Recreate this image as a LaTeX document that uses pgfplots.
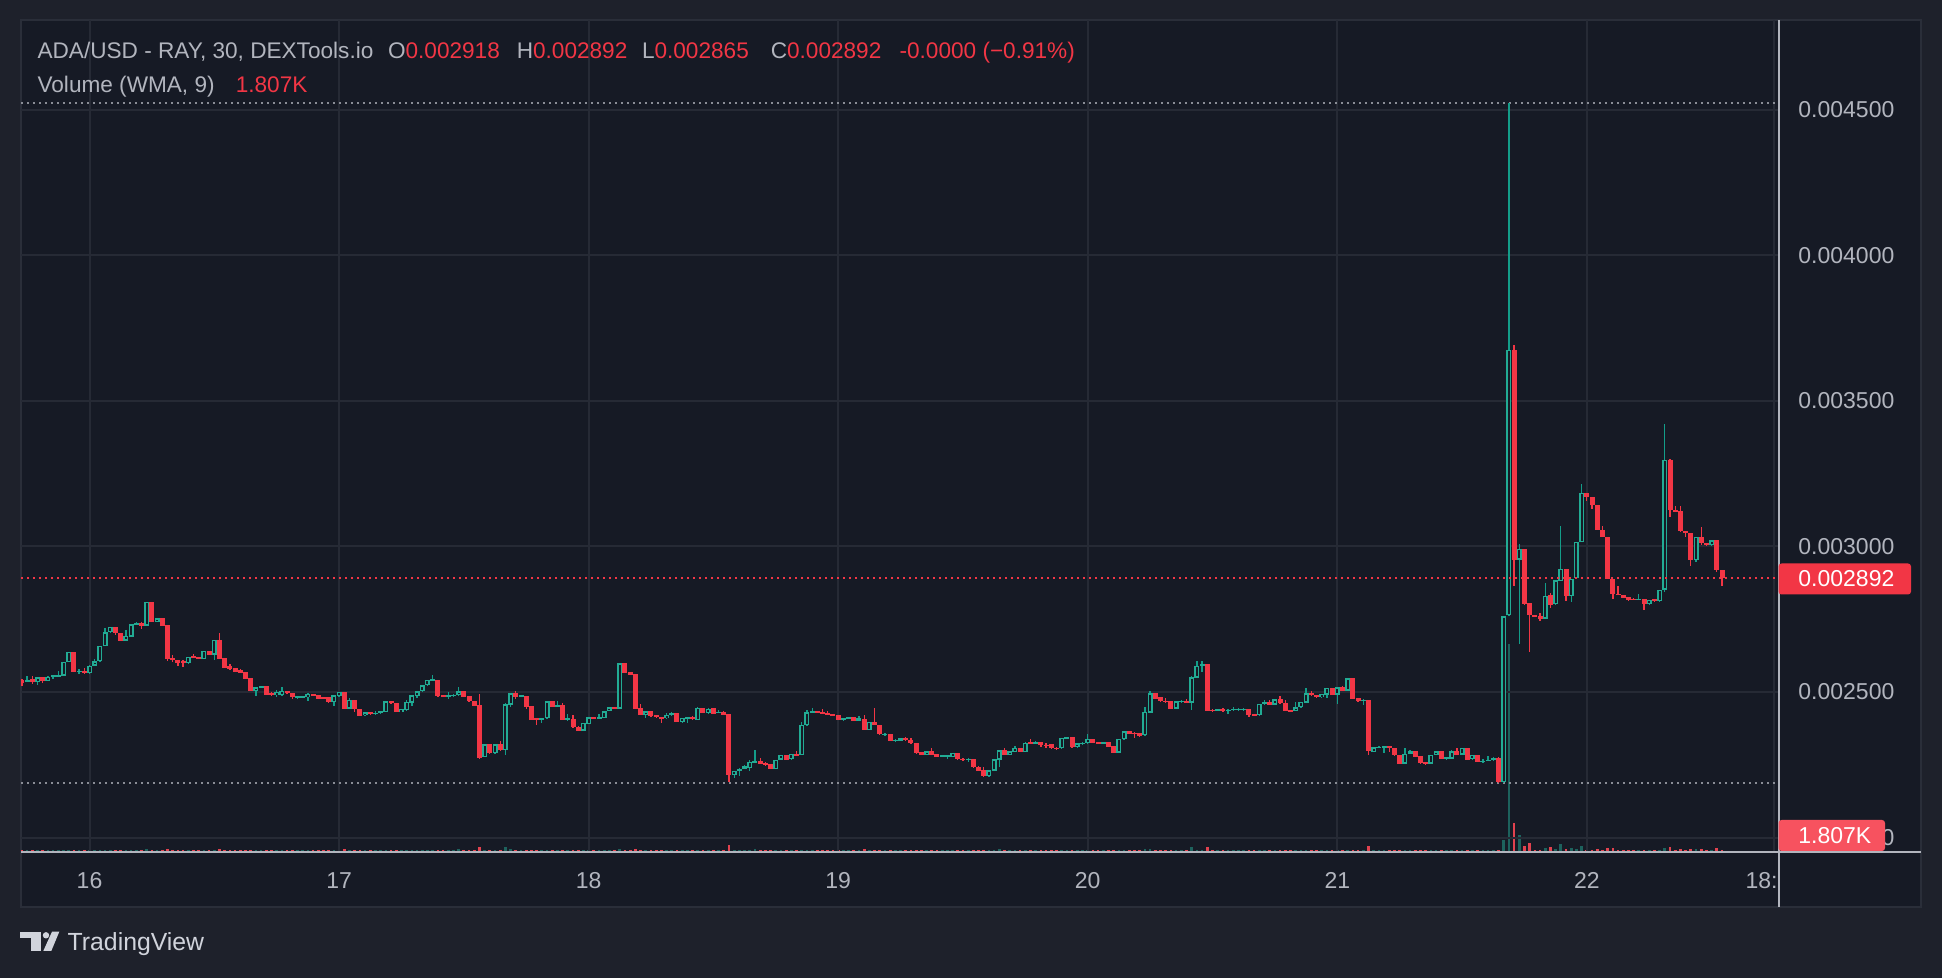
\documentclass[border=0pt]{standalone}
\usepackage{pgfplots}
\usepackage{pgfplotstable}
\pgfplotsset{compat=1.18}
\usepackage{fontspec}
\setmainfont{Liberation Sans}

\definecolor{outerbg}{HTML}{1E212B}
\definecolor{panebg}{HTML}{161A25}
\definecolor{paneborder}{HTML}{2A2E39}
\definecolor{gridc}{HTML}{262A35}
\definecolor{tvtext}{HTML}{B2B5BE}
\definecolor{tvlight}{HTML}{D1D4DC}
\definecolor{tvred}{HTML}{F23645}
\definecolor{tvteal}{HTML}{22AB94}
\definecolor{wickteal}{HTML}{139D89}
\definecolor{volteal}{HTML}{1D625D}
\definecolor{volred}{HTML}{E2424F}
\definecolor{dotgray}{HTML}{8A8D96}
\definecolor{volbox}{HTML}{F7525F}

% 30 min candles, n = half hours after 16 00:00
\pgfplotstableread{
n o h l c v
-13 0.002541 0.002545 0.002522 0.002532 1.2
-12 0.002534 0.002554 0.002533 0.002541 1.2
-11 0.002546 0.002555 0.002529 0.002534 1.2
-10 0.002534 0.002550 0.002525 0.002550 1.2
-9 0.002550 0.002553 0.002532 0.002537 1.2
-8 0.002539 0.002555 0.002537 0.002553 1.2
-7 0.002550 0.002558 0.002546 0.002557 1.2
-6 0.002553 0.002571 0.002551 0.002559 1.2
-5 0.002556 0.002603 0.002555 0.002603 1.2
-4 0.002603 0.002637 0.002602 0.002637 1.2
-3 0.002637 0.002637 0.002569 0.002570 1.2
-2 0.002569 0.002578 0.002562 0.002573 1.2
-1 0.002573 0.002582 0.002563 0.002564 1.2
0 0.002564 0.002593 0.002563 0.002591 1.2
1 0.002591 0.002615 0.002590 0.002605 1.2
2 0.002605 0.002658 0.002604 0.002658 1.2
3 0.002658 0.002720 0.002657 0.002705 1.2
4 0.002705 0.002724 0.002704 0.002724 1.2
5 0.002725 0.002725 0.002697 0.002701 1.2
6 0.002704 0.002704 0.002675 0.002676 1.2
7 0.002676 0.002713 0.002675 0.002692 1.2
8 0.002690 0.002732 0.002689 0.002732 1.2
9 0.002731 0.002739 0.002730 0.002736 1.2
10 0.002736 0.002740 0.002717 0.002726 1.2
11 0.002728 0.002809 0.002726 0.002809 1.6
12 0.002809 0.002809 0.002740 0.002741 1.2
13 0.002741 0.002753 0.002740 0.002753 1.2
14 0.002753 0.002753 0.002726 0.002728 1.2
15 0.002730 0.002730 0.002607 0.002614 2.0
16 0.002617 0.002626 0.002603 0.002610 1.2
17 0.002610 0.002610 0.002589 0.002601 1.2
18 0.002605 0.002610 0.002587 0.002598 1.2
19 0.002598 0.002621 0.002597 0.002621 1.2
20 0.002623 0.002630 0.002618 0.002619 1.2
21 0.002621 0.002621 0.002613 0.002614 1.2
22 0.002614 0.002641 0.002613 0.002641 1.2
23 0.002641 0.002641 0.002627 0.002628 1.2
24 0.002628 0.002678 0.002610 0.002678 1.2
25 0.002678 0.002702 0.002613 0.002614 1.8
26 0.002617 0.002617 0.002582 0.002583 1.2
27 0.002589 0.002596 0.002575 0.002580 1.2
28 0.002582 0.002582 0.002567 0.002569 1.2
29 0.002575 0.002578 0.002565 0.002566 1.2
30 0.002569 0.002569 0.002545 0.002546 1.2
31 0.002548 0.002548 0.002502 0.002503 1.2
32 0.002503 0.002516 0.002486 0.002516 1.2
33 0.002516 0.002521 0.002515 0.002521 1.2
34 0.002521 0.002521 0.002490 0.002491 1.2
35 0.002495 0.002500 0.002487 0.002489 1.2
36 0.002489 0.002507 0.002484 0.002500 1.2
37 0.002489 0.002517 0.002487 0.002503 1.2
38 0.002502 0.002502 0.002494 0.002495 1.2
39 0.002495 0.002495 0.002477 0.002482 1.2
40 0.002479 0.002487 0.002477 0.002486 1.2
41 0.002479 0.002487 0.002478 0.002486 1.2
42 0.002482 0.002497 0.002470 0.002493 1.2
43 0.002493 0.002493 0.002486 0.002487 1.2
44 0.002489 0.002489 0.002476 0.002477 1.2
45 0.002484 0.002484 0.002475 0.002477 1.2
46 0.002482 0.002484 0.002461 0.002466 1.2
47 0.002466 0.002489 0.002452 0.002489 1.2
48 0.002486 0.002500 0.002484 0.002500 1.2
49 0.002500 0.002500 0.002442 0.002443 1.8
50 0.002443 0.002479 0.002442 0.002473 1.2
51 0.002473 0.002473 0.002431 0.002441 1.2
52 0.002441 0.002441 0.002418 0.002419 1.2
53 0.002420 0.002431 0.002418 0.002430 1.2
54 0.002430 0.002431 0.002420 0.002423 1.2
55 0.002425 0.002433 0.002422 0.002429 1.2
56 0.002427 0.002435 0.002426 0.002434 1.2
57 0.002431 0.002469 0.002430 0.002468 1.2
58 0.002468 0.002469 0.002460 0.002461 1.2
59 0.002461 0.002461 0.002430 0.002431 1.2
60 0.002431 0.002441 0.002430 0.002441 1.2
61 0.002438 0.002471 0.002436 0.002466 1.2
62 0.002463 0.002489 0.002452 0.002489 1.2
63 0.002486 0.002502 0.002479 0.002502 1.2
64 0.002502 0.002523 0.002501 0.002523 1.2
65 0.002523 0.002541 0.002522 0.002541 1.2
66 0.002539 0.002558 0.002537 0.002543 1.2
67 0.002541 0.002541 0.002484 0.002486 1.2
68 0.002489 0.002489 0.002483 0.002484 1.2
69 0.002484 0.002499 0.002477 0.002489 1.2
70 0.002486 0.002493 0.002484 0.002491 1.2
71 0.002489 0.002516 0.002487 0.002502 1.8
72 0.002502 0.002502 0.002483 0.002484 1.2
73 0.002486 0.002486 0.002467 0.002468 1.2
74 0.002470 0.002470 0.002452 0.002453 1.2
75 0.002454 0.002493 0.002271 0.002274 3.2
76 0.002276 0.002320 0.002275 0.002320 1.2
77 0.002320 0.002320 0.002288 0.002290 1.2
78 0.002290 0.002322 0.002288 0.002320 1.2
79 0.002320 0.002332 0.002298 0.002299 1.2
80 0.002299 0.002461 0.002282 0.002458 2.8
81 0.002457 0.002495 0.002450 0.002495 1.8
82 0.002495 0.002503 0.002475 0.002484 1.2
83 0.002484 0.002491 0.002482 0.002489 1.2
84 0.002486 0.002486 0.002443 0.002450 1.2
85 0.002452 0.002452 0.002404 0.002405 1.2
86 0.002409 0.002412 0.002385 0.002405 1.2
87 0.002406 0.002412 0.002395 0.002411 1.2
88 0.002409 0.002468 0.002407 0.002468 1.2
89 0.002468 0.002468 0.002449 0.002450 1.2
90 0.002450 0.002468 0.002449 0.002454 1.2
91 0.002454 0.002463 0.002404 0.002405 1.2
92 0.002405 0.002425 0.002402 0.002409 1.2
93 0.002406 0.002421 0.002377 0.002378 1.2
94 0.002381 0.002383 0.002366 0.002367 1.2
95 0.002367 0.002393 0.002366 0.002393 1.2
96 0.002389 0.002414 0.002389 0.002413 1.2
97 0.002413 0.002414 0.002407 0.002409 1.2
98 0.002409 0.002425 0.002407 0.002413 1.2
99 0.002411 0.002434 0.002410 0.002434 1.2
100 0.002434 0.002450 0.002433 0.002447 1.2
101 0.002450 0.002450 0.002442 0.002443 1.2
102 0.002443 0.002599 0.002442 0.002598 2.0
103 0.002598 0.002598 0.002565 0.002566 1.2
104 0.002569 0.002569 0.002558 0.002559 1.2
105 0.002562 0.002562 0.002442 0.002443 2.0
106 0.002445 0.002459 0.002421 0.002422 1.2
107 0.002422 0.002434 0.002411 0.002434 1.2
108 0.002434 0.002434 0.002415 0.002418 1.2
109 0.002420 0.002420 0.002412 0.002413 1.2
110 0.002415 0.002415 0.002394 0.002409 1.2
111 0.002409 0.002427 0.002407 0.002421 1.2
112 0.002420 0.002431 0.002419 0.002427 1.2
113 0.002427 0.002427 0.002396 0.002397 1.2
114 0.002397 0.002411 0.002395 0.002411 1.2
115 0.002411 0.002415 0.002393 0.002413 1.2
116 0.002415 0.002418 0.002405 0.002406 1.2
117 0.002404 0.002450 0.002403 0.002445 1.2
118 0.002445 0.002445 0.002428 0.002429 1.2
119 0.002429 0.002445 0.002426 0.002443 1.2
120 0.002445 0.002445 0.002423 0.002425 1.2
121 0.002429 0.002438 0.002427 0.002431 1.2
122 0.002431 0.002436 0.002421 0.002422 1.2
123 0.002425 0.002425 0.002191 0.002215 4.0
124 0.002215 0.002228 0.002203 0.002228 1.2
125 0.002228 0.002239 0.002213 0.002237 1.2
126 0.002237 0.002248 0.002235 0.002244 1.2
127 0.002239 0.002267 0.002229 0.002260 1.2
128 0.002260 0.002301 0.002258 0.002262 1.5
129 0.002262 0.002274 0.002252 0.002253 1.2
130 0.002255 0.002258 0.002247 0.002252 1.2
131 0.002253 0.002253 0.002234 0.002235 1.2
132 0.002235 0.002267 0.002234 0.002267 1.2
133 0.002267 0.002283 0.002266 0.002283 1.2
134 0.002283 0.002283 0.002266 0.002267 1.2
135 0.002269 0.002287 0.002268 0.002287 1.2
136 0.002287 0.002296 0.002282 0.002283 1.2
137 0.002283 0.002397 0.002282 0.002386 1.2
138 0.002386 0.002438 0.002383 0.002430 1.2
139 0.002429 0.002445 0.002428 0.002434 1.2
140 0.002434 0.002434 0.002428 0.002429 1.2
141 0.002431 0.002442 0.002425 0.002427 1.2
142 0.002429 0.002434 0.002420 0.002421 1.2
143 0.002425 0.002425 0.002419 0.002420 1.2
144 0.002420 0.002420 0.002404 0.002405 1.2
145 0.002406 0.002411 0.002402 0.002410 1.2
146 0.002409 0.002415 0.002407 0.002414 1.2
147 0.002414 0.002414 0.002401 0.002402 1.2
148 0.002402 0.002418 0.002401 0.002409 1.2
149 0.002406 0.002421 0.002368 0.002370 1.5
150 0.002370 0.002397 0.002368 0.002397 1.2
151 0.002397 0.002445 0.002385 0.002386 1.2
152 0.002386 0.002386 0.002352 0.002354 1.2
153 0.002354 0.002359 0.002350 0.002357 1.2
154 0.002356 0.002356 0.002331 0.002332 1.2
155 0.002333 0.002339 0.002328 0.002335 1.2
156 0.002333 0.002342 0.002332 0.002342 1.2
157 0.002342 0.002347 0.002332 0.002335 1.2
158 0.002335 0.002342 0.002323 0.002324 1.2
159 0.002324 0.002324 0.002287 0.002292 1.2
160 0.002294 0.002294 0.002284 0.002285 1.2
161 0.002285 0.002296 0.002284 0.002296 1.2
162 0.002296 0.002308 0.002284 0.002285 1.2
163 0.002287 0.002287 0.002277 0.002278 1.2
164 0.002278 0.002284 0.002275 0.002282 1.2
165 0.002278 0.002285 0.002271 0.002283 1.2
166 0.002278 0.002290 0.002277 0.002290 1.2
167 0.002290 0.002290 0.002268 0.002269 1.2
168 0.002271 0.002274 0.002264 0.002267 1.2
169 0.002267 0.002274 0.002260 0.002271 1.2
170 0.002269 0.002269 0.002240 0.002242 1.2
171 0.002242 0.002246 0.002229 0.002230 1.2
172 0.002232 0.002242 0.002208 0.002210 1.2
173 0.002210 0.002231 0.002208 0.002231 1.2
174 0.002230 0.002269 0.002229 0.002269 1.2
175 0.002267 0.002301 0.002244 0.002299 1.8
176 0.002299 0.002308 0.002284 0.002285 1.2
177 0.002285 0.002296 0.002284 0.002296 1.2
178 0.002294 0.002315 0.002293 0.002308 1.2
179 0.002308 0.002308 0.002293 0.002294 1.2
180 0.002294 0.002328 0.002293 0.002326 1.2
181 0.002328 0.002338 0.002322 0.002324 1.2
182 0.002324 0.002332 0.002322 0.002328 1.2
183 0.002328 0.002328 0.002312 0.002317 1.2
184 0.002319 0.002326 0.002306 0.002315 1.2
185 0.002322 0.002322 0.002304 0.002306 1.2
186 0.002308 0.002310 0.002301 0.002306 1.2
187 0.002306 0.002342 0.002304 0.002342 1.2
188 0.002342 0.002347 0.002340 0.002344 1.2
189 0.002344 0.002344 0.002309 0.002310 1.2
190 0.002310 0.002324 0.002309 0.002324 1.2
191 0.002322 0.002328 0.002318 0.002326 1.2
192 0.002324 0.002356 0.002323 0.002338 1.2
193 0.002338 0.002340 0.002325 0.002326 1.2
194 0.002328 0.002328 0.002323 0.002324 1.2
195 0.002324 0.002328 0.002323 0.002327 1.2
196 0.002327 0.002328 0.002311 0.002312 1.2
197 0.002315 0.002315 0.002291 0.002292 1.2
198 0.002292 0.002338 0.002291 0.002338 1.2
199 0.002338 0.002365 0.002336 0.002365 1.2
200 0.002365 0.002365 0.002356 0.002357 1.2
201 0.002360 0.002364 0.002342 0.002356 1.2
202 0.002358 0.002358 0.002346 0.002349 1.2
203 0.002351 0.002449 0.002350 0.002431 1.6
204 0.002429 0.002503 0.002428 0.002495 1.8
205 0.002495 0.002495 0.002476 0.002477 1.2
206 0.002482 0.002484 0.002466 0.002468 1.2
207 0.002470 0.002479 0.002461 0.002466 1.2
208 0.002468 0.002468 0.002442 0.002443 1.2
209 0.002443 0.002468 0.002442 0.002468 1.2
210 0.002466 0.002473 0.002463 0.002470 1.2
211 0.002470 0.002477 0.002462 0.002463 1.2
212 0.002463 0.002555 0.002438 0.002550 3.0
213 0.002549 0.002606 0.002548 0.002589 1.2
214 0.002589 0.002606 0.002569 0.002596 1.2
215 0.002596 0.002596 0.002435 0.002436 2.8
216 0.002439 0.002441 0.002431 0.002437 1.2
217 0.002437 0.002442 0.002436 0.002441 1.2
218 0.002441 0.002445 0.002431 0.002434 1.2
219 0.002436 0.002443 0.002426 0.002439 1.2
220 0.002438 0.002449 0.002436 0.002443 1.2
221 0.002438 0.002446 0.002436 0.002442 1.2
222 0.002439 0.002446 0.002436 0.002442 1.2
223 0.002441 0.002441 0.002414 0.002422 1.2
224 0.002425 0.002425 0.002419 0.002420 1.2
225 0.002420 0.002459 0.002419 0.002459 1.2
226 0.002459 0.002473 0.002454 0.002466 1.2
227 0.002466 0.002473 0.002455 0.002457 1.2
228 0.002457 0.002475 0.002455 0.002475 1.2
229 0.002475 0.002486 0.002460 0.002461 1.2
230 0.002461 0.002473 0.002435 0.002436 1.2
231 0.002438 0.002438 0.002433 0.002434 1.2
232 0.002434 0.002466 0.002433 0.002447 1.2
233 0.002447 0.002466 0.002446 0.002466 1.2
234 0.002463 0.002514 0.002462 0.002495 1.2
235 0.002495 0.002502 0.002487 0.002489 1.2
236 0.002491 0.002491 0.002481 0.002482 1.2
237 0.002482 0.002493 0.002481 0.002493 1.2
238 0.002491 0.002514 0.002481 0.002514 1.2
239 0.002514 0.002514 0.002490 0.002491 1.2
240 0.002491 0.002516 0.002459 0.002516 1.2
241 0.002516 0.002521 0.002502 0.002505 1.2
242 0.002505 0.002547 0.002503 0.002547 1.2
243 0.002547 0.002547 0.002476 0.002477 1.2
244 0.002479 0.002479 0.002467 0.002468 1.2
245 0.002470 0.002475 0.002457 0.002473 1.2
246 0.002473 0.002473 0.002284 0.002296 3.4
247 0.002294 0.002310 0.002293 0.002310 1.2
248 0.002308 0.002316 0.002306 0.002312 1.2
249 0.002309 0.002316 0.002292 0.002315 1.2
250 0.002315 0.002315 0.002295 0.002306 1.2
251 0.002308 0.002308 0.002280 0.002282 1.2
252 0.002283 0.002283 0.002253 0.002254 1.2
253 0.002254 0.002308 0.002253 0.002287 1.2
254 0.002287 0.002300 0.002286 0.002296 1.2
255 0.002296 0.002296 0.002277 0.002278 1.2
256 0.002280 0.002280 0.002254 0.002255 1.2
257 0.002258 0.002260 0.002250 0.002255 1.2
258 0.002254 0.002283 0.002253 0.002283 1.2
259 0.002283 0.002296 0.002282 0.002296 1.2
260 0.002296 0.002296 0.002270 0.002271 1.2
261 0.002271 0.002278 0.002267 0.002276 1.2
262 0.002271 0.002299 0.002270 0.002296 1.2
263 0.002296 0.002308 0.002284 0.002285 1.2
264 0.002285 0.002308 0.002284 0.002308 1.2
265 0.002308 0.002308 0.002266 0.002267 1.2
266 0.002269 0.002283 0.002268 0.002283 1.2
267 0.002283 0.002283 0.002259 0.002260 1.2
268 0.002260 0.002270 0.002256 0.002264 1.2
269 0.002264 0.002280 0.002262 0.002268 1.2
270 0.002268 0.002278 0.002264 0.002273 1.2
271 0.002273 0.002275 0.002186 0.002190 1.2
272 0.002190 0.002762 0.002186 0.002760 7.2
273 0.002763 0.004523 0.002760 0.003675 124.8
274 0.003675 0.003693 0.002863 0.002955 17.4
275 0.002955 0.003008 0.002665 0.002992 10.2
276 0.002992 0.002992 0.002800 0.002802 3.6
277 0.002805 0.002805 0.002639 0.002763 5.4
278 0.002765 0.002765 0.002756 0.002758 1.2
279 0.002760 0.002773 0.002744 0.002752 1.2
280 0.002752 0.002874 0.002752 0.002831 2.4
281 0.002834 0.002839 0.002789 0.002800 3.0
282 0.002802 0.002884 0.002800 0.002884 1.8
283 0.002881 0.003071 0.002880 0.002924 4.8
284 0.002924 0.002924 0.002813 0.002829 1.8
285 0.002829 0.002889 0.002808 0.002889 2.4
286 0.002892 0.003016 0.002889 0.003016 1.8
287 0.003016 0.003216 0.003014 0.003184 3.6
288 0.003184 0.003184 0.003155 0.003171 1.2
289 0.003171 0.003171 0.003129 0.003142 1.2
290 0.003142 0.003142 0.003056 0.003058 1.8
291 0.003058 0.003071 0.003032 0.003034 1.2
292 0.003034 0.003034 0.002887 0.002889 2.4
293 0.002889 0.002889 0.002818 0.002837 2.4
294 0.002837 0.002863 0.002832 0.002834 1.2
295 0.002834 0.002834 0.002822 0.002823 1.2
296 0.002826 0.002826 0.002813 0.002816 1.2
297 0.002821 0.002824 0.002816 0.002818 1.2
298 0.002818 0.002837 0.002816 0.002820 1.2
299 0.002821 0.002821 0.002781 0.002802 1.2
300 0.002802 0.002816 0.002800 0.002816 1.2
301 0.002818 0.002818 0.002808 0.002811 1.2
302 0.002811 0.002852 0.002808 0.002852 1.2
303 0.002852 0.003422 0.002842 0.003298 2.4
304 0.003298 0.003300 0.003100 0.003126 3.0
305 0.003124 0.003140 0.003118 0.003121 1.2
306 0.003121 0.003140 0.003050 0.003053 1.8
307 0.003053 0.003053 0.003034 0.003047 1.2
308 0.003047 0.003047 0.002934 0.002953 1.8
309 0.002953 0.003032 0.002945 0.003032 1.8
310 0.003032 0.003066 0.003005 0.003013 1.8
311 0.003013 0.003013 0.003003 0.003005 1.2
312 0.003005 0.003021 0.003003 0.003021 1.2
313 0.003021 0.003021 0.002913 0.002918 2.4
314 0.002918 0.002918 0.002865 0.002892 1.2
}\candles

\pgfplotsset{
  tvframe/.style={
    at={(10.5pt,63pt)}, anchor=south west,
    scale only axis, width=878.5pt, height=416pt,
    xmin=15.7255, xmax=22.766,
  },
  candle/.style={
    draw=none, mark=none,
    error bars/y dir=both, error bars/y explicit,
    error bars/error mark=none,
    error bars/error mark options={draw=none, fill=none, mark size=0pt},
    error bars/error bar style={solid, line cap=butt, #1},
  },
}

\begin{document}
\begin{tikzpicture}
\useasboundingbox (0,0) rectangle (971pt,489pt);
\fill[outerbg] (0,0) rectangle (971pt,489pt);
\fill[panebg] (10.5pt,35.5pt) rectangle (960.5pt,479pt);
\draw[paneborder, line width=1pt] (10.5pt,35.5pt) rectangle (960.5pt,479pt);

% volume overlay
\begin{axis}[tvframe, ymin=0, ymax=499.2, hide axis]
  \addplot[ycomb, mark=none, draw=volteal, line width=1.35pt]
    table[x expr=16+\thisrow{n}/48, y expr={\thisrow{c}>=\thisrow{o} ? \thisrow{v} : nan}] {\candles};
  \addplot[ycomb, mark=none, draw=volred, line width=1.35pt]
    table[x expr=16+\thisrow{n}/48, y expr={\thisrow{c}<\thisrow{o} ? \thisrow{v} : nan}] {\candles};
\end{axis}

% price pane
\begin{axis}[tvframe,
  ymin=0.00195024, ymax=0.00480899,
  axis line style={draw=none}, major tick length=0pt,
  xtick={16,17,18,19,20,21,22,22.75},
  xticklabels={16,17,18,19,20,21,22,{}},
  ytick={0.002,0.0025,0.003,0.0035,0.004,0.0045},
  grid=major, major grid style={draw=gridc, line width=1pt},
  yticklabel pos=right, scaled y ticks=false,
  ticklabel style={font=\fontsize{11.5}{13}\selectfont, text=tvtext, inner sep=0pt},
  yticklabel style={anchor=west, xshift=10pt,
    /pgf/number format/.cd, fixed, fixed zerofill, precision=6, assume math mode=true},
  xticklabel style={anchor=base, yshift=-18.4pt},
]
  % high / low lines
  \draw[dotgray, line width=1pt, dash pattern=on 1pt off 2pt]
    (axis cs:15.7255,0.004523) -- (axis cs:22.766,0.004523);
  \draw[dotgray, line width=1pt, dash pattern=on 1pt off 2pt]
    (axis cs:15.7255,0.002186) -- (axis cs:22.766,0.002186);

  % wicks
  \addplot[candle={draw=tvred, line width=0.65pt}]
    table[x expr=16+\thisrow{n}/48,
          y expr={\thisrow{c}<\thisrow{o} ? (\thisrow{h}+\thisrow{l})/2 : nan},
          y error expr={(\thisrow{h}-\thisrow{l})/2}] {\candles};
  \addplot[candle={draw=wickteal, line width=0.65pt}]
    table[x expr=16+\thisrow{n}/48,
          y expr={\thisrow{c}>=\thisrow{o} ? (\thisrow{h}+\thisrow{l})/2 : nan},
          y error expr={(\thisrow{h}-\thisrow{l})/2}] {\candles};
  % bodies
  \addplot[candle={draw=tvred, line width=2.5pt}]
    table[x expr=16+\thisrow{n}/48,
          y expr={\thisrow{c}<\thisrow{o} ? (\thisrow{o}+\thisrow{c})/2 : nan},
          y error expr={max(abs(\thisrow{c}-\thisrow{o})/2,0.0000017)}] {\candles};
  \addplot[candle={draw=tvteal, line width=2.5pt}]
    table[x expr=16+\thisrow{n}/48,
          y expr={\thisrow{c}>=\thisrow{o} ? (\thisrow{o}+\thisrow{c})/2 : nan},
          y error expr={max(abs(\thisrow{c}-\thisrow{o})/2,0.0000017)}] {\candles};
  % hollow inside of rising candles
  \addplot[candle={draw=panebg, line width=1.0pt}]
    table[x expr=16+\thisrow{n}/48,
          y expr={\thisrow{c}>=\thisrow{o} ? (\thisrow{o}+\thisrow{c})/2 : nan},
          y error expr={max((\thisrow{c}-\thisrow{o})/2-0.0000045,0)}] {\candles};

  \draw[tvred, line width=1pt, dash pattern=on 1pt off 2pt]
    (axis cs:15.7255,0.002892) -- (axis cs:22.766,0.002892);
\end{axis}

% scale separators
\draw[tvtext, line width=1pt] (889.25pt,35.5pt) -- (889.25pt,479pt);
\draw[tvtext, line width=1pt] (10.5pt,63pt) -- (960.5pt,63pt);
\node[anchor=base east, inner sep=0pt, text=tvtext, font=\fontsize{11.5}{13}\selectfont]
  at (889pt,44.6pt) {18:};

% last price and volume tags
\fill[tvred, rounded corners=1.5pt] (889.25pt,191.75pt) rectangle (955.5pt,207.25pt);
\node[anchor=west, inner sep=0pt, text=white, font=\fontsize{11.5}{13}\selectfont]
  at (899pt,199.5pt) {0.002892};
\fill[volbox, rounded corners=1.5pt] (889.25pt,63.5pt) rectangle (942.5pt,79pt);
\node[anchor=west, inner sep=0pt, text=white, font=\fontsize{11.5}{13}\selectfont]
  at (899pt,71.2pt) {1.807K};

% legend
\begin{scope}[every node/.style={anchor=base west, inner sep=0pt, font=\fontsize{11.3}{13}\selectfont}]
  \node[text=tvtext] at (18.6pt,459.6pt) {ADA/USD - RAY, 30, DEXTools.io};
  \node at (193.8pt,459.6pt) {\textcolor{tvtext}{O}\textcolor{tvred}{0.002918}};
  \node at (258.2pt,459.6pt) {\textcolor{tvtext}{H}\textcolor{tvred}{0.002892}};
  \node at (320.8pt,459.6pt) {\textcolor{tvtext}{L}\textcolor{tvred}{0.002865}};
  \node at (385.2pt,459.6pt) {\textcolor{tvtext}{C}\textcolor{tvred}{0.002892}};
  \node[text=tvred] at (449.6pt,459.6pt) {-0.0000 (−0.91\%)};
  \node[text=tvtext] at (18.6pt,442.9pt) {Volume (WMA, 9)};
  \node[text=tvred] at (117.7pt,442.9pt) {1.807K};
\end{scope}

% TradingView mark
\fill[tvlight] (10pt,19.85pt) rectangle (20.35pt,23.15pt);
\fill[tvlight] (15.35pt,13.5pt) rectangle (20.35pt,23.15pt);
\fill[tvlight] (23pt,21.35pt) circle (1.6pt);
\fill[tvlight] (21.65pt,13.5pt) -- (25.65pt,13.5pt) -- (29.65pt,23.15pt) -- (26pt,23.15pt) -- cycle;
\node[anchor=base west, inner sep=0pt, text=tvlight, font=\fontsize{12.4}{14}\selectfont]
  at (33.65pt,13.5pt) {TradingView};
\end{tikzpicture}
\end{document}
